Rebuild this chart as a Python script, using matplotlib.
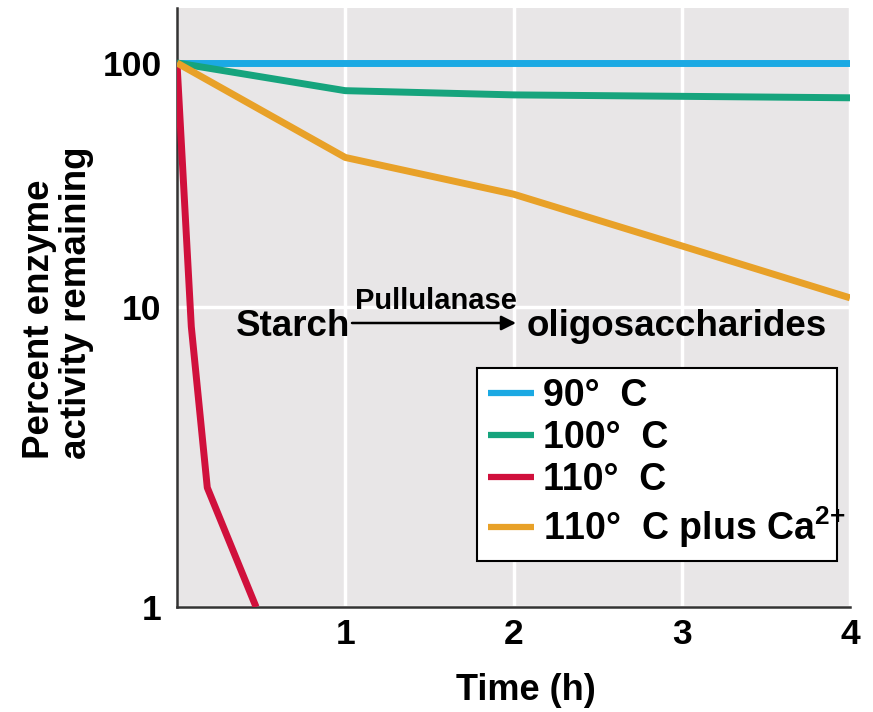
import numpy as np
import matplotlib
matplotlib.use("Agg")
import matplotlib.pyplot as plt

plt.rcParams['font.family'] = ['Liberation Sans', 'DejaVu Sans']
plt.rcParams['font.weight'] = 'bold'
plt.rcParams['mathtext.fontset'] = 'custom'
plt.rcParams['mathtext.rm'] = 'Liberation Sans:bold'
plt.rcParams['mathtext.it'] = 'Liberation Sans:bold'
plt.rcParams['mathtext.bf'] = 'Liberation Sans:bold'

# ---- data ----
t_90 = [0, 1, 2, 3, 4]
v_90 = [100, 100, 100, 100, 100]
t_100 = [0, 1, 2, 3, 4]
v_100 = [100, 77, 74, 73, 72]
t_110 = [0, 0.085, 0.18, 0.47]
v_110 = [100, 8.6, 2.5, 1.0]
t_110ca = [0, 1, 2, 3, 4]
v_110ca = [100, 41, 29, 17.8, 10.9]

labels = ['90°  C', '100°  C', '110°  C', '110°  C plus Ca$^{2{+}}$']
colors = ['#1ba9e3', '#16a47d', '#d0103c', '#e8a128']
xticks = [1, 2, 3, 4]
yticks = [1, 10, 100]
yticklabels = ['1', '10', '100']

# piecewise log scale (decades drawn with different lengths in the source figure)
def fwd(y):
    y = np.asarray(y, float)
    ly = np.log10(np.clip(y, 1e-3, None))
    return np.where(ly <= 1, 300 * ly, 300 + 244 * (ly - 1))

def inv(p):
    p = np.asarray(p, float)
    return np.where(p <= 300, 10 ** (p / 300), 10 ** (1 + (p - 300) / 244))

W, H = 873, 712
fig = plt.figure(figsize=(W / 100, H / 100), dpi=100)
L, R, T, B = 177, 850, 8, 607
ax = fig.add_axes([L / W, 1 - B / H, (R - L) / W, (B - T) / H])
ax.set_facecolor('#e8e6e7')

ax.set_yscale('function', functions=(fwd, inv))
ax.set_xlim(0, 4)
ax.set_ylim(1, 168)

ax.set_xticks(xticks)
ax.set_xticklabels([str(x) for x in xticks])
ax.set_yticks(yticks)
ax.set_yticklabels(yticklabels)
ax.yaxis.set_minor_locator(matplotlib.ticker.NullLocator())
ax.tick_params(axis='both', length=0, labelsize=25.5)
ax.tick_params(axis='y', pad=11)
ax.tick_params(axis='x', pad=8)

ax.grid(True, color='white', linewidth=2.5)
ax.set_axisbelow(True)
for s in ['top', 'right']:
    ax.spines[s].set_visible(False)
for s in ['left', 'bottom']:
    ax.spines[s].set_color('#333333')
    ax.spines[s].set_linewidth(1.8)

lw = 5
series = [(t_90, v_90), (t_100, v_100), (t_110, v_110), (t_110ca, v_110ca)]
handles = []
for (tt, vv), c, lab in zip(series, colors, labels):
    h, = ax.plot(tt, vv, color=c, lw=lw, label=lab, solid_joinstyle='round',
                 solid_capstyle='butt', zorder=3)
    handles.append(h)

x0, y0 = (477 - L) / (R - L), (B - 556) / (B - T)
x1, y1 = (837 - L) / (R - L), (B - 368) / (B - T)
leg = ax.legend(handles=handles, loc='upper left',
                bbox_to_anchor=(x0, y0, x1 - x0, y1 - y0), mode='expand',
                frameon=True, fancybox=False, framealpha=1,
                edgecolor='black', facecolor='white', borderaxespad=0,
                borderpad=0.28, labelspacing=0.16, handlelength=1.25,
                handletextpad=0.22, prop={'weight': 'bold', 'size': 27})
leg.get_frame().set_linewidth(1.5)
for lh in leg.get_lines():
    lh.set_linewidth(4.5)

def axc(px, py):
    return ((px - L) / (R - L), (B - py) / (B - T))

ax.text(*axc(350, 336), 'Starch', transform=ax.transAxes, ha='right', va='baseline',
        fontsize=26.5, fontweight='bold', zorder=5)
ax.text(*axc(527, 336), 'oligosaccharides', transform=ax.transAxes, ha='left',
        va='baseline', fontsize=26.5, fontweight='bold', zorder=5)
ax.text(*axc(436, 309), 'Pullulanase', transform=ax.transAxes, ha='center',
        va='baseline', fontsize=21, fontweight='bold', zorder=5)
ax.annotate('', xy=axc(516, 323), xytext=axc(352, 323), xycoords='axes fraction',
            textcoords='axes fraction',
            arrowprops=dict(arrowstyle='-|>', color='black', lw=1.8,
                            mutation_scale=22, shrinkA=0, shrinkB=0))

fig.text(58 / W, 1 - 303 / H, 'Percent enzyme\nactivity remaining', rotation=90,
         ha='center', va='center', fontsize=26.5, fontweight='bold',
         linespacing=1.05, multialignment='left')
fig.text(526 / W, 1 - 690 / H, 'Time (h)', ha='center', va='center',
         fontsize=26, fontweight='bold')

fig.savefig('out.png', dpi=100, facecolor='white')
